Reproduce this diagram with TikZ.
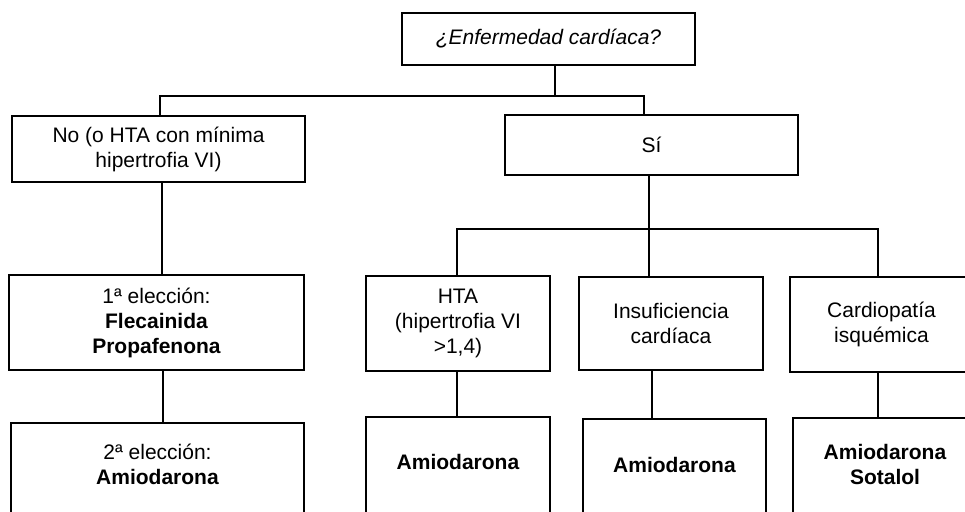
\documentclass[tikz,border=0pt]{standalone}
\usepackage{fontspec}
\setmainfont{Liberation Sans}
\begin{document}
\begin{tikzpicture}[x=1pt,y=-1pt,
  box/.style={draw=black, line width=1.8pt, fill=white, rectangle, inner sep=0pt, align=center,
    font=\fontsize{21}{25}\selectfont},
  lbl/.style={inner sep=0pt, align=center, font=\fontsize{21}{25}\selectfont},
  conn/.style={draw=black, line width=1.8pt}]
\clip (0,0) rectangle (965,511);
\fill[white] (0,0) rectangle (965,511);
% top level
\node[box, minimum width=293pt, minimum height=52pt] (top) at (548.5,39) {\textit{¿Enfermedad cardíaca?}};
\node[box, minimum width=293pt, minimum height=66pt] (no) at (158.5,149) {No (o HTA con mínima\\hipertrofia VI)};
\node[box, minimum width=293pt, minimum height=60pt] (si) at (651.5,145) {Sí};
% second level
\node[box, minimum width=295pt, minimum height=95pt] (e1) at (156.5,322.5) {1ª elección:\\\textbf{Flecainida}\\\textbf{Propafenona}};
\node[box, minimum width=184pt, minimum height=95pt] (hta) at (458,323.5) {HTA\\(hipertrofia VI\\>1,4)};
\node[box, minimum width=184pt, minimum height=93pt] (ins) at (671,323.5) {Insuficiencia\\cardíaca};
\node[box, minimum width=183pt, minimum height=95pt] (car) at (881.5,324.5) {Cardiopatía\\isquémica};
% bottom level (boxes run past the lower edge)
\node[box, minimum width=293pt, minimum height=117pt] (e2) at (157.5,481.5) {};
\node[lbl] (e2t) at (157.5,464) {2ª elección:\\\textbf{Amiodarona}};
\node[box, minimum width=184pt, minimum height=123pt] (a1) at (458,478.5) {};
\node[lbl] (a1t) at (458,462) {\textbf{Amiodarona}};
\node[box, minimum width=183pt, minimum height=121pt] (a2) at (674.5,479.5) {};
\node[lbl] (a2t) at (674.5,465) {\textbf{Amiodarona}};
\node[box, minimum width=184pt, minimum height=122pt] (a3) at (885,479) {};
\node[lbl] (a3t) at (885,464) {\textbf{Amiodarona}\\\textbf{Sotalol}};
% junction coordinates
\coordinate (j1) at (555,96);
\coordinate (jno) at (160,96);
\coordinate (jsi) at (644,96);
\coordinate (j2) at (649,229);
\coordinate (jh) at (457,229);
\coordinate (jc) at (878,229);
\coordinate (x162) at (162,0);
\coordinate (x163) at (163,0);
\coordinate (x652) at (652,0);
% connectors
\draw[conn] (top.south -| j1) -- (j1);
\draw[conn] (no.north -| jno) -- (jno) -- (jsi) -- (si.north -| jsi);
\draw[conn] (si.south -| j2) -- (ins.north -| j2);
\draw[conn] (hta.north -| jh) -- (jh) -- (jc) -- (car.north -| jc);
\draw[conn] (no.south -| x162) -- (e1.north -| x162);
\draw[conn] (e1.south -| x163) -- (e2.north -| x163);
\draw[conn] (hta.south -| jh) -- (a1.north -| jh);
\draw[conn] (ins.south -| x652) -- (a2.north -| x652);
\draw[conn] (car.south -| jc) -- (a3.north -| jc);
\end{tikzpicture}
\end{document}
